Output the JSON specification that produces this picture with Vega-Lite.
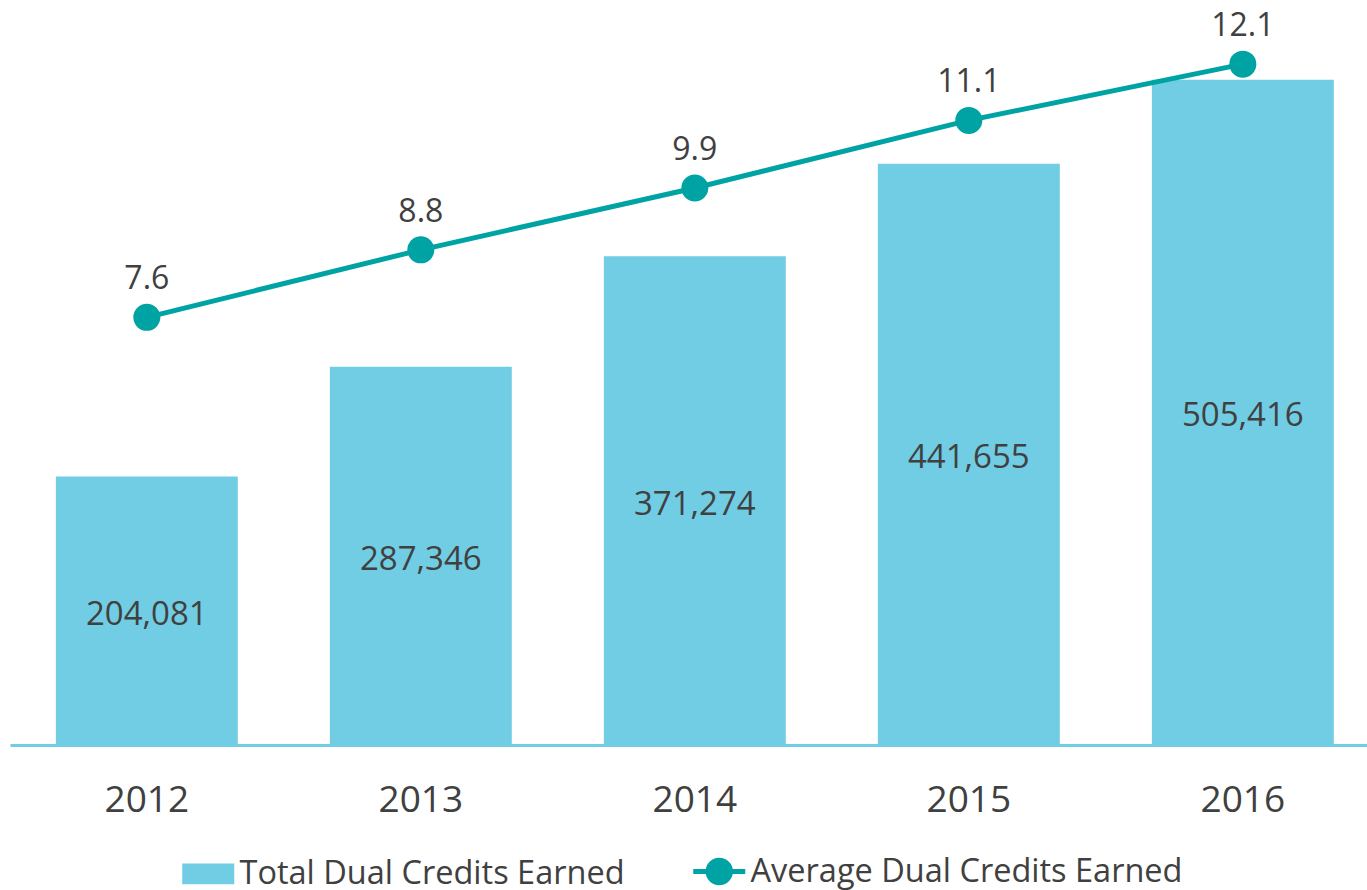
{
  "$schema": "https://vega.github.io/schema/vega-lite/v6.json",
  "width": 1357,
  "height": 745,
  "padding": {"left": 10, "top": 0, "right": 0, "bottom": 0},
  "background": "white",
  "config": {
    "view": {"stroke": null},
    "font": "Open Sans",
    "axis": {"grid": false},
    "text": {"font": "Open Sans", "color": "#404040"}
  },
  "data": {
    "values": [
      {"year": "2012", "total": 204081, "avg": 7.6},
      {"year": "2013", "total": 287346, "avg": 8.8},
      {"year": "2014", "total": 371274, "avg": 9.9},
      {"year": "2015", "total": 441655, "avg": 11.1},
      {"year": "2016", "total": 505416, "avg": 12.1}
    ]
  },
  "encoding": {
    "x": {
      "field": "year",
      "type": "nominal",
      "scale": {"paddingInner": 0.336, "paddingOuter": 0.1443, "align": 0.58},
      "axis": {
        "title": null,
        "labelAngle": 0,
        "labelFontSize": 37,
        "labelColor": "#404040",
        "labelFont": "Open Sans",
        "labelPadding": 37,
        "ticks": false,
        "domainColor": "#70CDE3",
        "domainWidth": 3
      }
    }
  },
  "layer": [
    {
      "mark": {"type": "bar"},
      "encoding": {
        "y": {"field": "total", "type": "quantitative", "scale": {"domain": [0, 566000], "nice": false}, "axis": null},
        "color": {
          "datum": "Total Dual Credits Earned",
          "scale": {
            "domain": ["Total Dual Credits Earned", "Average Dual Credits Earned"],
            "range": ["#70CDE3", "#00A3A3"]
          },
          "legend": {
            "orient": "none",
            "legendX": 182,
            "legendY": 855,
            "direction": "horizontal",
            "title": null,
            "labelFontSize": 32.5,
            "labelColor": "#404040",
            "labelFont": "Open Sans",
            "labelLimit": 0,
            "symbolSize": 2704,
            "labelOffset": 15,
            "columnPadding": 58,
            "encode": {
              "symbols": {
                "update": {
                  "shape": {"signal": "datum.value === 'Total Dual Credits Earned' ? 'M-1,-0.4H1V0.4H-1Z' : 'M-1,0H1M0.43,0A0.43,0.43,0,1,1,-0.43,0A0.43,0.43,0,1,1,0.43,0'"},
                  "strokeWidth": {"signal": "datum.value === 'Total Dual Credits Earned' ? 0 : 5"},
                  "fill": {"scale": "color", "field": "value"},
                  "stroke": {"scale": "color", "field": "value"},
                  "opacity": {"value": 1},
                  "fillOpacity": {"value": 1},
                  "strokeOpacity": {"value": 1}
                }
              }
            }
          }
        }
      }
    },
    {
      "mark": {"type": "text", "fontSize": 33, "baseline": "middle", "dy": 4, "color": "#404040"},
      "encoding": {
        "y": {"field": "total", "type": "quantitative", "scale": {"domain": [0, 1132000], "nice": false}, "axis": null},
        "text": {"field": "total", "type": "quantitative", "format": ",d"}
      }
    },
    {
      "layer": [
        {
          "mark": {"type": "line", "strokeWidth": 5},
          "encoding": {
            "y": {"field": "avg", "type": "quantitative", "scale": {"domain": [0, 13.24], "nice": false}, "axis": null},
            "color": {"datum": "Average Dual Credits Earned"}
          }
        },
        {
          "mark": {"type": "point", "filled": true, "opacity": 1, "size": 729},
          "encoding": {
            "y": {"field": "avg", "type": "quantitative", "axis": null},
            "color": {"datum": "Average Dual Credits Earned"}
          }
        },
        {
          "mark": {"type": "text", "fontSize": 32, "baseline": "middle", "dy": -38, "color": "#404040"},
          "encoding": {
            "y": {"field": "avg", "type": "quantitative", "axis": null},
            "text": {"field": "avg", "type": "quantitative", "format": ".1f"}
          }
        }
      ]
    }
  ],
  "resolve": {"scale": {"y": "independent"}}
}
